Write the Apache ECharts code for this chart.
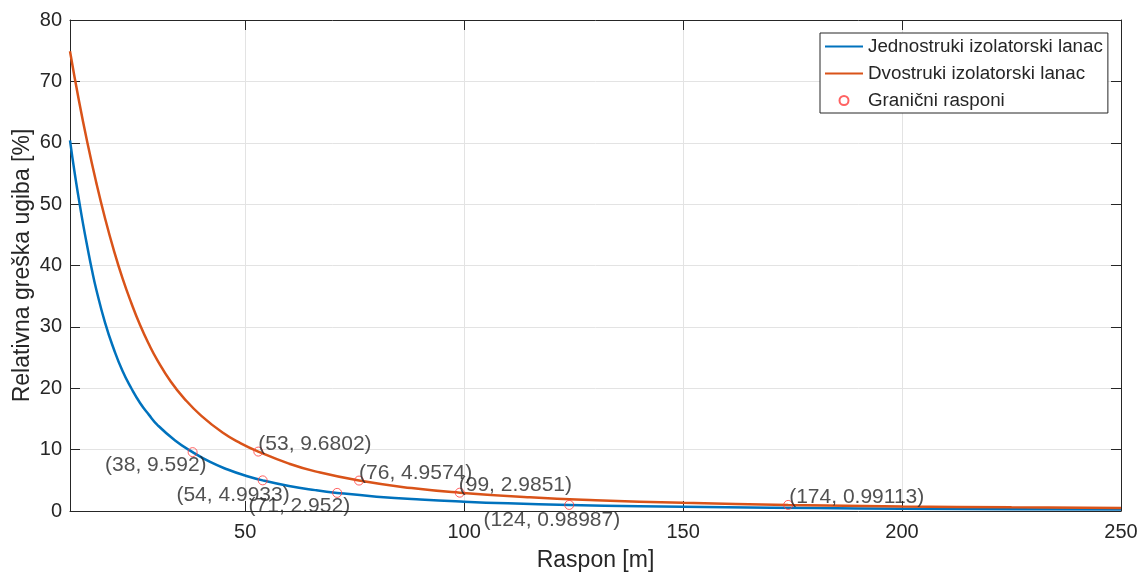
<!DOCTYPE html>
<html>
<head>
<meta charset="utf-8">
<script src="https://cdn.jsdelivr.net/npm/echarts@6/dist/echarts.min.js"></script>
<style>
  html, body { margin: 0; padding: 0; background: #fff; }
  #main { width: 1141px; height: 573px; }
</style>
</head>
<body>
<div id="main"></div>
<script>
// jednostruki lanac (ocitano sa slike)
var spanSingle = [10, 11, 12, 13, 14, 15, 16, 18, 20, 22, 24, 26, 28, 30, 34, 38, 42, 46, 50, 54, 60, 66, 71, 80, 90, 100, 110, 124, 140, 160, 180, 200, 225, 250];
var errSingle = [60.4, 55.4, 50.9, 46.7, 42.9, 39.3, 36.1, 30.7, 26.4, 22.8, 20.0, 17.6, 15.7, 14.0, 11.5, 9.592, 7.99, 6.76, 5.78, 4.9933, 4.08, 3.40, 2.952, 2.34, 1.86, 1.51, 1.25, 0.99, 0.78, 0.60, 0.47, 0.385, 0.305, 0.25];

// dvostruki lanac
var spanDouble = [10, 12, 14, 16, 18, 20, 22, 24, 26, 28, 30, 33, 36, 40, 45, 49, 53, 60, 66, 76, 88, 99, 115, 130, 150, 174, 200, 225, 250];
var errDouble = [74.9, 67.0, 59.9, 53.5, 47.7, 42.5, 37.9, 33.9, 30.3, 27.2, 24.5, 21.1, 18.4, 15.5, 12.7, 11.03, 9.6802, 7.72, 6.46, 4.9574, 3.74, 2.9851, 2.23, 1.76, 1.33, 0.99113, 0.75, 0.60, 0.48];

// granicni rasponi
var limitSpan = [38, 53, 54, 71, 76, 99, 124, 174];
var limitErr = [9.592, 9.6802, 4.9933, 2.952, 4.9574, 2.9851, 0.98987, 0.99113];

var xTicks = [50, 100, 150, 200, 250];

// polozaj natpisa uz tacke
var tipPlace = [
    { align: 'right', verticalAlign: 'middle', offset: [14, 13] },
    { align: 'left', verticalAlign: 'bottom', offset: [0, 3] },
    { align: 'right', verticalAlign: 'middle', offset: [27, 15] },
    { align: 'right', verticalAlign: 'middle', offset: [13, 13] },
    { align: 'left', verticalAlign: 'bottom', offset: [0, 3] },
    { align: 'left', verticalAlign: 'bottom', offset: [-1, 3] },
    { align: 'right', verticalAlign: 'middle', offset: [51, 15] },
    { align: 'left', verticalAlign: 'bottom', offset: [1, 3] }
];

var txt = '#262626';
var font = 'Liberation Sans, Arial, Helvetica, sans-serif';
var lineIcon = 'path://M0 0H40V2H0Z';

function pairs(xs, ys) {
    return xs.map(function(x, i) { return [x, ys[i]]; });
}

var limitData = limitSpan.map(function(x, i) {
    var p = tipPlace[i];
    return {
        value: [x, limitErr[i]],
        label: {
            show: true,
            position: 'inside',
            align: p.align,
            verticalAlign: p.verticalAlign,
            offset: p.offset,
            formatter: '(' + x + ', ' + limitErr[i] + ')'
        }
    };
});

var myChart = echarts.init(document.getElementById('main'));

var option = {
    backgroundColor: '#fff',
    animation: false,
    textStyle: { fontFamily: font },
    grid: { left: 70, right: 20, top: 20, bottom: 62, outerBoundsMode: 'none' },
    legend: {
        orient: 'vertical',
        left: 820,
        top: 33,
        backgroundColor: '#fff',
        borderColor: txt,
        borderWidth: 1,
        borderRadius: 0,
        padding: [4, 5, 3, 5],
        itemGap: 8,
        itemWidth: 38,
        itemHeight: 9,
        textStyle: { fontSize: 18.8, color: txt, fontFamily: font },
        data: [
            { name: 'Jednostruki izolatorski lanac', icon: lineIcon },
            { name: 'Dvostruki izolatorski lanac', icon: lineIcon },
            { name: 'Granični rasponi' }
        ]
    },
    xAxis: [{
        type: 'value',
        min: 10,
        max: 250,
        name: 'Raspon [m]',
        nameLocation: 'middle',
        nameGap: 38,
        nameMoveOverlap: false,
        nameTextStyle: { fontSize: 23, color: txt },
        axisLine: { lineStyle: { color: txt } },
        axisTick: { inside: true, length: 10, lineStyle: { color: txt }, customValues: xTicks },
        axisLabel: { fontSize: 20, color: txt, margin: 11, customValues: xTicks },
        splitLine: { show: true, lineStyle: { color: '#e3e3e3' } }
    }, {
        type: 'value',
        position: 'top',
        min: 10,
        max: 250,
        axisLine: { show: true, onZero: false, lineStyle: { color: txt } },
        axisTick: { inside: true, length: 10, lineStyle: { color: txt }, customValues: xTicks },
        axisLabel: { show: false },
        splitLine: { show: false }
    }],
    yAxis: [{
        type: 'value',
        min: 0,
        max: 80,
        interval: 10,
        name: 'Relativna greška ugiba [%]',
        nameLocation: 'middle',
        nameGap: 36,
        nameMoveOverlap: false,
        nameTextStyle: { fontSize: 23, color: txt },
        axisLine: { show: true, lineStyle: { color: txt } },
        axisTick: { show: true, inside: true, length: 10, lineStyle: { color: txt } },
        axisLabel: { fontSize: 20, color: txt, margin: 8 },
        splitLine: { show: true, lineStyle: { color: '#e3e3e3' } }
    }, {
        type: 'value',
        position: 'right',
        min: 0,
        max: 80,
        interval: 10,
        axisLine: { show: true, lineStyle: { color: txt } },
        axisTick: { show: true, inside: true, length: 10, lineStyle: { color: txt } },
        axisLabel: { show: false },
        splitLine: { show: false }
    }],
    series: [{
        name: 'Jednostruki izolatorski lanac',
        type: 'line',
        smooth: true,
        symbol: 'none',
        lineStyle: { color: '#0072BD', width: 2.5 },
        itemStyle: { color: '#0072BD' },
        data: pairs(spanSingle, errSingle),
        z: 3
    }, {
        name: 'Dvostruki izolatorski lanac',
        type: 'line',
        smooth: true,
        symbol: 'none',
        lineStyle: { color: '#D95319', width: 2.5 },
        itemStyle: { color: '#D95319' },
        data: pairs(spanDouble, errDouble),
        z: 3
    }, {
        name: 'Granični rasponi',
        type: 'scatter',
        symbol: 'circle',
        symbolSize: 9,
        itemStyle: { color: 'rgba(0,0,0,0)', borderColor: '#ff3b3b', borderWidth: 1 },
        label: { fontSize: 21, color: txt, fontFamily: font },
        data: limitData,
        z: 4
    }]
};

myChart.setOption(option);
</script>
</body>
</html>
